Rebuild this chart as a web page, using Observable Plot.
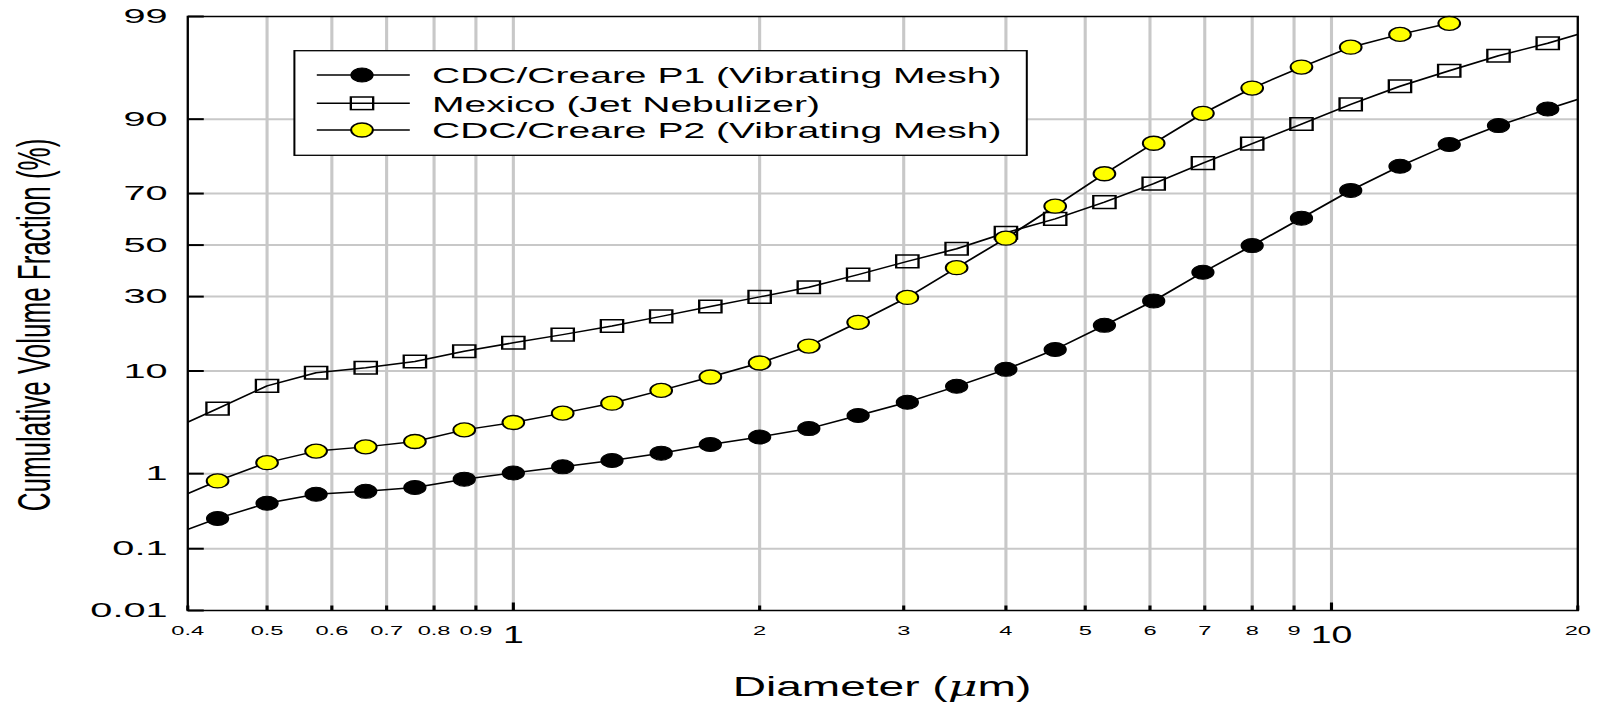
<!DOCTYPE html>
<html><head><meta charset="utf-8">
<script src="https://cdn.jsdelivr.net/npm/d3@7"></script>
<script src="https://cdn.jsdelivr.net/npm/@observablehq/plot@0.6"></script>
<style>html,body{margin:0;padding:0;background:#fff;} #chart{width:1605px;height:705px;overflow:hidden}</style>
</head><body><div id="chart"></div>
<script>
// ---------- data ----------
const seriesNames = ["CDC/Creare P1 (Vibrating Mesh)", "Mexico (Jet Nebulizer)", "CDC/Creare P2 (Vibrating Mesh)"];
const diameters = [0.435, 0.5, 0.574, 0.66, 0.758, 0.871, 1, 1.149, 1.32, 1.516, 1.741, 2, 2.297, 2.639, 3.031, 3.482, 4, 4.595, 5.278, 6.063, 6.964, 8, 9.19, 10.556, 12.126, 13.929, 16, 18.379];
const p1Values = [0.27, 0.43, 0.56, 0.61, 0.68, 0.86, 1.02, 1.2, 1.42, 1.71, 2.12, 2.54, 3.09, 4.14, 5.49, 7.53, 10.3, 14.4, 20.7, 28.5, 39.1, 49.8, 60.8, 71.1, 78.9, 84.7, 88.8, 91.7];
const mexicoValues = [4.8, 7.6, 9.7, 10.6, 11.8, 14.0, 16.0, 18.1, 20.5, 23.4, 26.6, 29.9, 33.4, 38.2, 43.4, 48.5, 55.0, 60.5, 66.9, 73.4, 79.8, 84.9, 89.1, 92.4, 94.7, 96.2, 97.3, 98.0];
const p2Values = [0.82, 1.34, 1.80, 2.0, 2.28, 3.0, 3.55, 4.36, 5.38, 6.96, 8.97, 11.5, 15.2, 21.6, 29.7, 40.9, 52.8, 65.4, 76.6, 85.0, 91.0, 94.5, 96.5, 97.8, 98.4, 98.8];
// where each curve meets the left (0.4) and right (20) frame edges
const p1Edges = [0.19, 93.1];
const mexicoEdges = [3.58, 98.4];
const p2Edges = [0.57, null];

const xDomain = [0.4, 20];
const xMinorTicks = [0.4, 0.5, 0.6, 0.7, 0.8, 0.9, 2, 3, 4, 5, 6, 7, 8, 9, 20];
const xMajorTicks = [1, 10];
const xGrid = [0.5, 0.6, 0.7, 0.8, 0.9, 1, 2, 3, 4, 5, 6, 7, 8, 9, 10];
const yTicks = [0.01, 0.1, 1, 10, 30, 50, 70, 90, 99];
const yGrid = [0.1, 1, 10, 30, 50, 70, 90];

// ---------- probability (probit) transform ----------
function probit(p) {
  const a = [-3.969683028665376e+01, 2.209460984245205e+02, -2.759285104469687e+02, 1.383577518672690e+02, -3.066479806614716e+01, 2.506628277459239e+00];
  const b = [-5.447609879822406e+01, 1.615858368580409e+02, -1.556989798598866e+02, 6.680131188771972e+01, -1.328068155288572e+01];
  const c = [-7.784894002430293e-03, -3.223964580411365e-01, -2.400758277161838e+00, -2.549732539343734e+00, 4.374664141464968e+00, 2.938163982698783e+00];
  const d = [7.784695709041462e-03, 3.224671290700398e-01, 2.445134137142996e+00, 3.754408661907416e+00];
  const pl = 0.02425, ph = 1 - pl;
  let q, r;
  if (p < pl) { q = Math.sqrt(-2 * Math.log(p)); return (((((c[0]*q+c[1])*q+c[2])*q+c[3])*q+c[4])*q+c[5]) / ((((d[0]*q+d[1])*q+d[2])*q+d[3])*q+1); }
  if (p <= ph) { q = p - 0.5; r = q*q; return (((((a[0]*r+a[1])*r+a[2])*r+a[3])*r+a[4])*r+a[5])*q / (((((b[0]*r+b[1])*r+b[2])*r+b[3])*r+b[4])*r+1); }
  q = Math.sqrt(-2 * Math.log(1 - p)); return -(((((c[0]*q+c[1])*q+c[2])*q+c[3])*q+c[4])*q+c[5]) / ((((d[0]*q+d[1])*q+d[2])*q+d[3])*q+1);
}
const zp = v => probit(v / 100);

// ---------- tables ----------
const pointRows = (name, vals) => vals.map((v, i) => ({series: name, d: diameters[i], v}));
const lineRows = (name, vals, edges) => {
  const r = pointRows(name, vals);
  if (edges[0] != null) r.unshift({series: name, d: xDomain[0], v: edges[0]});
  if (edges[1] != null) r.push({series: name, d: xDomain[1], v: edges[1]});
  return r;
};
const p1Rows = pointRows(seriesNames[0], p1Values);
const mexRows = pointRows(seriesNames[1], mexicoValues);
const p2Rows = pointRows(seriesNames[2], p2Values);
const allLines = [
  ...lineRows(seriesNames[0], p1Values, p1Edges),
  ...lineRows(seriesNames[1], mexicoValues, mexicoEdges),
  ...lineRows(seriesNames[2], p2Values, p2Edges)
];

// ---------- geometry (drawn compressed, then stretched horizontally) ----------
const W = 1035, H = 705, S = 1605 / W;
const FONT = "'Liberation Sans', Arial, Helvetica, sans-serif";
const rectSym = {draw(ctx) { ctx.rect(-7.2, -6.3, 14.4, 12.6); }};
const tickRight = {draw(ctx) { ctx.moveTo(0, 0); ctx.lineTo(16 / S, 0); }};
const tickUpMinor = {draw(ctx) { ctx.moveTo(0, 0); ctx.lineTo(0, -5); }};
const tickUpMajor = {draw(ctx) { ctx.moveTo(0, 0); ctx.lineTo(0, -8); }};
const xMin = () => xDomain[0];
const yMin = () => zp(yTicks[0]);

const chart = Plot.plot({
  width: W, height: H,
  marginLeft: 187 / S, marginRight: 28 / S, marginTop: 16, marginBottom: 95,
  x: {type: "log", domain: xDomain, axis: null},
  y: {type: "linear", domain: [zp(yTicks[0]), zp(yTicks[yTicks.length - 1])], axis: null},
  style: {fontFamily: FONT, background: "white", color: "black"},
  marks: [
    Plot.ruleX(xGrid, {stroke: "#c8c8c8", strokeWidth: 2}),
    Plot.ruleY(yGrid.map(zp), {stroke: "#c8c8c8", strokeWidth: 2}),
    Plot.dot(yTicks, {x: xMin, y: zp, symbol: tickRight, stroke: "black", fill: "none", strokeWidth: 2}),
    Plot.dot(xMinorTicks, {x: d => d, y: yMin, symbol: tickUpMinor, stroke: "black", fill: "none", strokeWidth: 2}),
    Plot.dot(xMajorTicks, {x: d => d, y: yMin, symbol: tickUpMajor, stroke: "black", fill: "none", strokeWidth: 2}),
    Plot.text(yTicks, {x: xMin, y: zp, text: d => String(d), textAnchor: "end", lineAnchor: "middle", dx: -13, fontSize: 20.5, fill: "black"}),
    Plot.text(xMinorTicks, {x: d => d, y: yMin, text: d => String(d), textAnchor: "middle", lineAnchor: "top", dy: 16, fontSize: 12.5, fill: "black"}),
    Plot.text(xMajorTicks, {x: d => d, y: yMin, text: d => String(d), textAnchor: "middle", lineAnchor: "top", dy: 16.5, fontSize: 23, fill: "black"}),
    Plot.line(allLines, {x: "d", y: d => zp(d.v), z: "series", stroke: "black", strokeWidth: 1.5, clip: true}),
    Plot.dot(p1Rows, {x: "d", y: d => zp(d.v), r: 7, fill: "black", stroke: "black", strokeWidth: 1}),
    Plot.dot(mexRows, {x: "d", y: d => zp(d.v), symbol: rectSym, fill: "none", stroke: "black", strokeWidth: 1.5}),
    Plot.dot(p2Rows, {x: "d", y: d => zp(d.v), r: 7, fill: "#ffff00", stroke: "black", strokeWidth: 1.3}),
    Plot.frame({stroke: "black", strokeWidth: 1.5})
  ]
});

document.getElementById("chart").append(chart);
const svg = d3.select(chart);

// extra horizontal widening of glyphs about their anchor point
function widen(sel, f) {
  sel.each(function() {
    const t = this.getAttribute("transform") || "";
    this.setAttribute("transform", `${t} scale(${f},1)`);
  });
}
const textGroups = svg.selectAll('g[aria-label="text"]').nodes();
if (textGroups[0]) widen(d3.select(textGroups[0]).selectAll("text"), 1.25);
if (textGroups[1]) widen(d3.select(textGroups[1]).selectAll("text"), 1.22);
if (textGroups[2]) widen(d3.select(textGroups[2]).selectAll("text"), 1.05);

// ---------- legend ----------
const lg = svg.append("g").attr("font-family", FONT).attr("text-anchor", "start");
lg.append("rect").attr("x", 294.4 / S).attr("y", 50.7).attr("width", (1026.8 - 294.4) / S).attr("height", 104.6)
  .attr("fill", "white").attr("stroke", "black").attr("stroke-width", 1.3);
const rowsY = [75, 103.3, 130];
seriesNames.forEach((name, i) => {
  const y = rowsY[i];
  lg.append("line").attr("x1", 316.8 / S).attr("x2", 409.8 / S).attr("y1", y).attr("y2", y).attr("stroke", "black").attr("stroke-width", 1.5);
  const cx = 362 / S;
  if (i === 1) {
    lg.append("rect").attr("x", cx - 7.2).attr("y", y - 6.3).attr("width", 14.4).attr("height", 12.6).attr("fill", "none").attr("stroke", "black").attr("stroke-width", 1.5);
  } else {
    lg.append("circle").attr("cx", cx).attr("cy", y).attr("r", 7).attr("fill", i === 0 ? "black" : "#ffff00").attr("stroke", "black").attr("stroke-width", i === 0 ? 1 : 1.3);
  }
  lg.append("text").attr("transform", `translate(${432 / S},${y}) scale(1.094,1)`).attr("dy", "0.36em")
    .attr("font-size", 23).attr("fill", "black").text(name);
});

// ---------- axis titles ----------
const xt = svg.append("text").attr("transform", `translate(${(187 + 1577) / 2 / S},696) scale(1.1,1)`).attr("text-anchor", "middle")
  .attr("font-family", FONT).attr("font-size", 27).attr("fill", "black");
xt.append("tspan").text("Diameter (");
xt.append("tspan").attr("font-style", "italic").attr("font-family", "'DejaVu Serif', serif").text("μ");
xt.append("tspan").text("m)");

svg.append("text").attr("transform", `translate(21.3,325) rotate(-90) scale(1,1.14)`).attr("text-anchor", "middle")
  .attr("dy", "0.36em").attr("font-family", FONT).attr("font-size", 26).attr("fill", "black")
  .text("Cumulative Volume Fraction (%)");

// ---------- stretch to final size ----------
chart.setAttribute("width", 1605);
chart.setAttribute("height", 705);
chart.setAttribute("viewBox", `0 0 ${W} ${H}`);
chart.setAttribute("preserveAspectRatio", "none");
chart.style.width = "1605px";
chart.style.height = "705px";
chart.style.maxWidth = "none";
</script>
</body></html>
